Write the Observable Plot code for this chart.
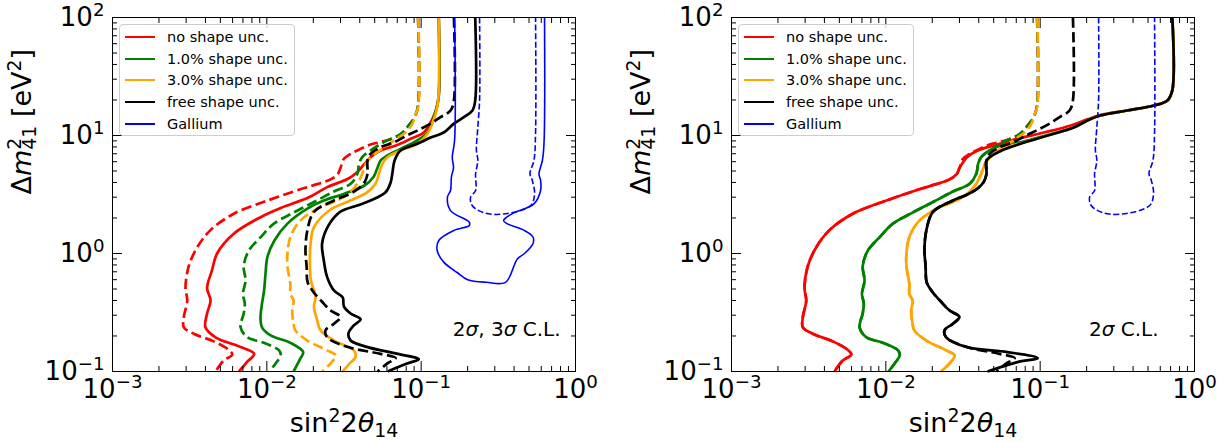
<!DOCTYPE html>
<html><head><meta charset="utf-8">
<script src="https://cdn.jsdelivr.net/npm/d3@7"></script>
<script src="https://cdn.jsdelivr.net/npm/@observablehq/plot@0.6"></script>
<style>
html,body{margin:0;padding:0;background:#fff;}
#wrap{position:relative;width:1222px;height:442px;font-family:"DejaVu Sans",sans-serif;overflow:hidden;}
.panel{position:absolute;top:0;}
.legend{position:absolute;box-sizing:border-box;border:1px solid #cccccc;border-radius:4px;background:rgba(255,255,255,0.8);padding:1px 6px 0 5px;font-size:14.5px;color:#000;}
.legend .row{height:21.8px;display:flex;align-items:center;white-space:nowrap;}
.legend .sw{display:inline-block;width:30px;height:0;border-top:2px solid;margin-right:12px;}
</style></head><body><div id="wrap"></div>
<script>
// ---------------- data (x = sin^2 2theta14, y = dm^2_41 [eV^2]) ----------------
// Left panel: dashed = 2 sigma, solid = 3 sigma
const noShape3s = [[0.130,100],[0.130,21.8],[0.1255,16.9],[0.1168,13.4],[0.104,10.6],[0.0854,9.37],[0.0685,8.23],[0.0546,7.46],[0.047,6.55],[0.0429,5.75],[0.0385,4.88],[0.0336,4.3],[0.0246,3.65],[0.0186,2.98],[0.0123,2.43],[0.0091,2.03],[0.0061,1.47],[0.00476,1.0],[0.00441,0.718],[0.0041,0.51],[0.00432,0.40],[0.0041,0.31],[0.0040,0.237],[0.00465,0.195],[0.00676,0.161],[0.00828,0.141],[0.00747,0.121],[0.00659,0.1]];
const noShape2s = [[0.0955,100],[0.0955,17.96],[0.0905,14.2],[0.0829,12.15],[0.0751,10.39],[0.065,9.43],[0.0546,8.8],[0.047,8.4],[0.0405,7.7],[0.0349,6.98],[0.0316,6.35],[0.030,5.3],[0.0288,4.7],[0.0259,4.25],[0.0212,3.87],[0.0165,3.5],[0.0101,2.81],[0.0061,2.17],[0.0043,1.57],[0.00354,1.13],[0.00312,0.78],[0.00297,0.51],[0.00305,0.40],[0.0029,0.29],[0.0029,0.237],[0.00336,0.209],[0.00453,0.18],[0.00565,0.153],[0.00597,0.139],[0.00526,0.124],[0.00465,0.1]];
const shape1_3s = [[0.130,100],[0.130,21.8],[0.1255,16.9],[0.118,13.1],[0.11,10.6],[0.0944,9.07],[0.0735,7.7],[0.0604,6.77],[0.0546,6.14],[0.0518,5.22],[0.0491,4.45],[0.0429,3.77],[0.0315,3.2],[0.0234,2.81],[0.0184,2.41],[0.0136,1.79],[0.0112,1.29],[0.0101,0.94],[0.0098,0.67],[0.0096,0.486],[0.0093,0.375],[0.0091,0.281],[0.0093,0.237],[0.0106,0.202],[0.0142,0.175],[0.0172,0.146],[0.0165,0.129],[0.0149,0.1]];
const shape1_2s = [[0.0955,100],[0.0955,17.96],[0.0905,14.2],[0.0829,12.15],[0.0735,10.3],[0.0574,8.8],[0.047,7.46],[0.0415,6.55],[0.0396,5.75],[0.0386,4.73],[0.0349,3.9],[0.0272,3.35],[0.0202,2.73],[0.0149,2.22],[0.0111,1.79],[0.0091,1.37],[0.00765,1.06],[0.00708,0.78],[0.00728,0.59],[0.007,0.455],[0.0072,0.375],[0.00708,0.31],[0.00676,0.237],[0.00747,0.195],[0.00957,0.175],[0.012,0.151],[0.0123,0.137],[0.0114,0.117],[0.0104,0.1]];
const shape3_3s = [[0.130,100],[0.130,24.1],[0.127,17.3],[0.118,12.6],[0.11,10.35],[0.0944,8.5],[0.0735,7.46],[0.0604,6.55],[0.056,5.75],[0.0532,4.73],[0.0506,3.9],[0.0447,3.3],[0.0349,2.81],[0.0259,2.36],[0.0202,1.67],[0.0192,1.21],[0.019,0.872],[0.0193,0.59],[0.0207,0.43],[0.0202,0.355],[0.0212,0.271],[0.0223,0.223],[0.0272,0.183],[0.0366,0.151],[0.0376,0.133],[0.0342,0.116],[0.031,0.1]];
const shape3_2s = [[0.0958,100],[0.0958,17.6],[0.092,15.1],[0.0878,12.6],[0.0792,10.6],[0.0683,9.25],[0.0575,7.9],[0.0496,6.9],[0.0443,5.9],[0.0418,4.85],[0.0387,3.92],[0.0338,3.22],[0.0286,2.81],[0.0223,2.47],[0.0165,1.9],[0.0142,1.38],[0.0136,0.995],[0.0136,0.78],[0.0142,0.55],[0.0142,0.455],[0.0149,0.40],[0.0146,0.329],[0.0149,0.254],[0.0153,0.223],[0.0183,0.183],[0.0246,0.151],[0.0279,0.137],[0.0259,0.117],[0.0228,0.1]];
const free_3s = [[0.224,100],[0.224,19.8],[0.215,16.3],[0.189,14.3],[0.163,12.6],[0.14,10.6],[0.1151,9.6],[0.0944,8.5],[0.0735,7.46],[0.0673,6.14],[0.065,4.73],[0.0634,4.0],[0.0588,3.3],[0.047,2.81],[0.0385,2.55],[0.030,2.26],[0.0251,1.73],[0.0228,1.21],[0.0234,0.872],[0.0246,0.63],[0.0272,0.486],[0.031,0.425],[0.0316,0.355],[0.0349,0.31],[0.0405,0.277],[0.0365,0.245],[0.0338,0.21],[0.0349,0.183],[0.0449,0.161],[0.0705,0.141],[0.0965,0.127],[0.081,0.117],[0.0673,0.106],[0.0608,0.1]];
const free_2s = [[0.163,100],[0.163,19.8],[0.155,16.29],[0.1336,14.3],[0.1151,12.6],[0.0944,11.0],[0.081,10],[0.0673,8.8],[0.0546,7.95],[0.047,7.0],[0.0449,6.14],[0.0449,4.73],[0.0432,4.07],[0.0393,3.55],[0.0338,3.16],[0.0272,2.81],[0.0202,2.25],[0.0183,1.57],[0.0178,1.06],[0.0181,0.78],[0.0184,0.57],[0.0201,0.47],[0.0228,0.39],[0.0259,0.329],[0.030,0.29],[0.0272,0.254],[0.024,0.223],[0.0246,0.195],[0.0336,0.161],[0.0546,0.141],[0.0683,0.13],[0.0604,0.117],[0.0522,0.1]];
const gallium3s = [[0.1646,100],[0.1646,9.07],[0.159,6.51],[0.162,5.36],[0.157,4.45],[0.155,3.42],[0.148,3.0],[0.155,2.31],[0.205,1.84],[0.205,1.73],[0.163,1.57],[0.130,1.29],[0.127,1.06],[0.14,0.845],[0.171,0.69],[0.2,0.6],[0.265,0.57],[0.352,0.57],[0.42,0.90],[0.465,0.995],[0.53,1.21],[0.53,1.38],[0.465,1.57],[0.36,1.79],[0.342,1.9],[0.39,2.18],[0.538,2.63],[0.594,3.42],[0.594,4.16],[0.58,4.73],[0.61,6.14],[0.625,8.55],[0.63,100]];
const gallium2s = [[0.239,100],[0.239,19.8],[0.232,11.0],[0.228,7.46],[0.233,6.14],[0.2253,4.76],[0.2253,3.42],[0.209,3.0],[0.214,2.55],[0.2535,2.22],[0.34,2.16],[0.512,2.55],[0.543,3.2],[0.525,4.16],[0.507,4.76],[0.538,6.14],[0.551,10.39],[0.551,100]];
// Right panel solid curves (2 sigma)
const noShapeR = [[0.718,100],[0.718,24.1],[0.667,19.8],[0.546,17.96],[0.366,16.29],[0.245,14.9],[0.202,13.7],[0.158,12.15],[0.106,10.6],[0.071,9.37],[0.050,8.23],[0.0394,7.46],[0.0336,6.55],[0.030,5.3],[0.0288,4.7],[0.0259,4.25],[0.0212,3.87],[0.0165,3.5],[0.0101,2.81],[0.0061,2.17],[0.0043,1.57],[0.00354,1.13],[0.00312,0.78],[0.00297,0.51],[0.00305,0.40],[0.0029,0.29],[0.0029,0.237],[0.00336,0.209],[0.00453,0.18],[0.00565,0.153],[0.00597,0.139],[0.00526,0.124],[0.00465,0.1]];
const shape1R = [[0.718,100],[0.718,24.1],[0.667,19.8],[0.546,17.96],[0.366,16.29],[0.245,14.77],[0.202,13.4],[0.165,11.7],[0.112,10.1],[0.0745,8.75],[0.0556,8.23],[0.047,7.46],[0.0415,6.55],[0.0396,5.75],[0.0386,4.73],[0.0349,3.9],[0.0272,3.35],[0.0202,2.73],[0.0149,2.22],[0.0111,1.79],[0.0091,1.37],[0.00765,1.06],[0.00708,0.78],[0.00728,0.59],[0.007,0.455],[0.0072,0.375],[0.00708,0.31],[0.00676,0.237],[0.00747,0.195],[0.00957,0.175],[0.012,0.151],[0.0123,0.137],[0.0114,0.117],[0.0104,0.1]];
const shape3R = [[0.718,100],[0.718,24.1],[0.667,19.8],[0.546,17.96],[0.366,16.29],[0.245,14.77],[0.202,13.4],[0.165,11.7],[0.112,10],[0.0745,8.55],[0.0575,7.9],[0.0496,6.9],[0.0443,5.9],[0.0418,4.85],[0.0387,3.92],[0.0338,3.22],[0.0286,2.81],[0.0223,2.47],[0.0165,1.9],[0.0142,1.38],[0.0136,0.995],[0.0136,0.78],[0.0142,0.55],[0.0142,0.455],[0.0149,0.40],[0.0146,0.329],[0.0149,0.254],[0.0153,0.223],[0.0183,0.183],[0.0246,0.151],[0.0279,0.137],[0.0259,0.117],[0.0228,0.1]];
const freeR = [[0.718,100],[0.718,24.1],[0.667,19.8],[0.546,17.96],[0.366,16.29],[0.245,14.77],[0.202,13.4],[0.165,11.7],[0.112,10],[0.0745,8.5],[0.0556,7.4],[0.0449,6.14],[0.0449,4.73],[0.0432,4.07],[0.0393,3.55],[0.0338,3.16],[0.0272,2.81],[0.0202,2.25],[0.0183,1.57],[0.0178,1.06],[0.0181,0.78],[0.0184,0.57],[0.0201,0.47],[0.0228,0.39],[0.0259,0.329],[0.030,0.29],[0.0272,0.254],[0.024,0.223],[0.0246,0.195],[0.0336,0.161],[0.0614,0.146],[0.0965,0.13],[0.0712,0.12],[0.0456,0.1]];

// ticks and labels
const xMajor = [0.001, 0.01, 0.1, 1];
const xMinor = [0.002,0.003,0.004,0.005,0.006,0.007,0.008,0.009,0.02,0.03,0.04,0.05,0.06,0.07,0.08,0.09,0.2,0.3,0.4,0.5,0.6,0.7,0.8,0.9];
const yMajor = [0.1, 1, 10, 100];
const yMinor = [0.2,0.3,0.4,0.5,0.6,0.7,0.8,0.9,2,3,4,5,6,7,8,9,20,30,40,50,60,70,80,90];
const legendLabels = ["no shape unc.", "1.0% shape unc.", "3.0% shape unc.", "free shape unc.", "Gallium"];
const legendColors = ["#ff0000", "#008000", "#ffa500", "#000000", "#0000ff"];
const xTitle = "sin^{2}2~{θ}_{14}";
const yTitle = "Δ~{m}^{2}_{41} [eV^{2}]";
const noteLeft = "2~{σ}, 3~{σ} C.L.";
const noteRight = "2~{σ} C.L.";

// ---------------- drawing ----------------
const [RED, GREEN, ORANGE, BLACK, BLUE] = legendColors;
const LW = 2.7, DASH = "10.3,4.4", BLW = 1.6, BDASH = "6,2.6";
const pow10 = v => "10^{" + String(Math.round(Math.log10(v))).replace("-", "\u2212") + "}";
const TICKFS = 26, TITLEFS = 27;

function curveMarks(list) {
  return list.map(([data, color, w, dash]) => Plot.line(data, {
    x: d => d[0], y: d => d[1], stroke: color, strokeWidth: w,
    strokeDasharray: dash, curve: "catmull-rom", strokeLinejoin: "round", strokeLinecap: "butt"
  }));
}

function makePanel({curves, marginLeft, marginRight, note, noteDx}) {
  return Plot.plot({
    width: 611, height: 442,
    marginLeft, marginRight, marginTop: 17, marginBottom: 71,
    x: {type: "log", domain: [1e-3, 1], axis: null},
    y: {type: "log", domain: [0.1, 100], axis: null},
    style: {fontFamily: "DejaVu Sans", background: "transparent", color: "black", overflow: "visible"},
    marks: [
      ...curveMarks(curves),
      Plot.frame({stroke: "black", strokeWidth: 1}),
      Plot.axisX(xMajor, {anchor: "bottom", tickSize: -10, tickPadding: 18, tickFormat: pow10, fontSize: TICKFS, label: null}),
      Plot.axisX(xMinor, {anchor: "bottom", tickSize: -5, tickFormat: () => "", label: null}),
      Plot.axisX(xMajor, {anchor: "top", tickSize: -10, tickFormat: () => "", label: null}),
      Plot.axisX(xMinor, {anchor: "top", tickSize: -5, tickFormat: () => "", label: null}),
      Plot.axisY(yMajor, {anchor: "left", tickSize: -10, tickPadding: 18, tickFormat: pow10, fontSize: TICKFS, label: null}),
      Plot.axisY(yMinor, {anchor: "left", tickSize: -5, tickFormat: () => "", label: null}),
      Plot.axisY(yMajor, {anchor: "right", tickSize: -10, tickFormat: () => "", label: null}),
      Plot.axisY(yMinor, {anchor: "right", tickSize: -5, tickFormat: () => "", label: null}),
      Plot.text([xTitle], {text: d => d, frameAnchor: "bottom", dy: 52, fontSize: TITLEFS, lineAnchor: "middle"}),
      Plot.text([yTitle], {text: d => d, frameAnchor: "left", dx: -90, rotate: -90, fontSize: TITLEFS, lineAnchor: "middle"}),
      Plot.text([note], {text: d => d, frameAnchor: "bottom-right", dx: noteDx, dy: -42, fontSize: 20, textAnchor: "end", lineAnchor: "middle"})
    ]
  });
}

const leftCurves = [
  [noShape3s, RED, LW, null], [noShape2s, RED, LW, DASH],
  [shape1_3s, GREEN, LW, null], [shape1_2s, GREEN, LW, DASH],
  [shape3_3s, ORANGE, LW, null], [shape3_2s, ORANGE, LW, DASH],
  [free_3s, BLACK, LW, null], [free_2s, BLACK, LW, DASH],
  [gallium3s, BLUE, BLW, null], [gallium2s, BLUE, BLW, BDASH]
];
const rightCurves = [
  [noShapeR, RED, LW, null], [noShape2s, RED, LW, DASH],
  [shape1R, GREEN, LW, null], [shape1_2s, GREEN, LW, DASH],
  [shape3R, ORANGE, LW, null], [shape3_2s, ORANGE, LW, DASH],
  [freeR, BLACK, LW, null], [free_2s, BLACK, LW, DASH],
  [gallium2s, BLUE, BLW, BDASH]
];

const wrap = document.getElementById("wrap");
function addPanel(svg, left) {
  const div = document.createElement("div");
  div.className = "panel"; div.style.left = left + "px";
  div.appendChild(svg); wrap.appendChild(div);
}
function addLegend(left, top) {
  const lg = document.createElement("div");
  lg.className = "legend"; lg.style.left = left + "px"; lg.style.top = top + "px";
  legendLabels.forEach((t, i) => {
    const r = document.createElement("div"); r.className = "row";
    const s = document.createElement("span"); s.className = "sw"; s.style.borderTopColor = legendColors[i];
    const tx = document.createElement("span"); tx.textContent = t;
    r.appendChild(s); r.appendChild(tx); lg.appendChild(r);
  });
  wrap.appendChild(lg);
}

// rich text: ^{sup} _{sub} ~{italic}
function richify(root) {
  const NS = "http://www.w3.org/2000/svg";
  root.querySelectorAll("text").forEach(t => {
    const s = t.textContent;
    if (!/[\^_~]\{/.test(s)) return;
    const fs = parseFloat(getComputedStyle(t).fontSize) || 20;
    while (t.firstChild) t.removeChild(t.firstChild);
    const re = /([\^_~])\{([^}]*)\}|([^\^_~]+)/g;
    let m, prevSup = null;
    while ((m = re.exec(s))) {
      const sp = document.createElementNS(NS, "tspan");
      if (m[1] === "^") {
        sp.setAttribute("font-size", 0.7 * fs);
        sp.setAttribute("baseline-shift", 0.38 * fs);
        sp.textContent = m[2]; t.appendChild(sp); prevSup = sp; continue;
      }
      if (m[1] === "_") {
        sp.setAttribute("font-size", 0.7 * fs);
        sp.setAttribute("baseline-shift", -0.18 * fs);
        sp.textContent = m[2]; t.appendChild(sp);
        if (prevSup) sp.setAttribute("dx", -prevSup.getComputedTextLength());
        prevSup = null; continue;
      }
      if (m[1] === "~") { sp.setAttribute("font-style", "italic"); sp.textContent = m[2]; }
      else sp.textContent = m[3];
      t.appendChild(sp); prevSup = null;
    }
  });
}

const left = makePanel({curves: leftCurves, marginLeft: 112, marginRight: 36, note: noteLeft, noteDx: -15});
const right = makePanel({curves: rightCurves, marginLeft: 120, marginRight: 28, note: noteRight, noteDx: -36});
addPanel(left, 0); addPanel(right, 611);
addLegend(119, 24); addLegend(738, 24);
richify(left); richify(right);
</script></body></html>
